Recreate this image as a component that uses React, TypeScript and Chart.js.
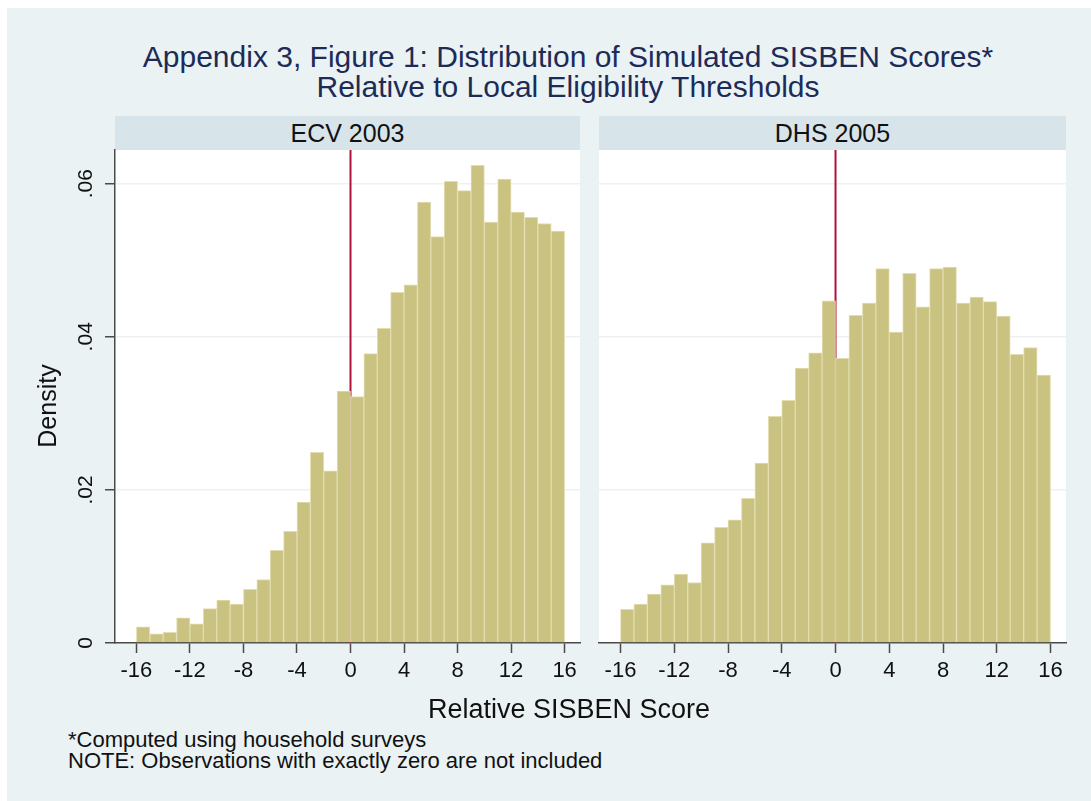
import React, { useEffect, useRef } from 'react';
import { Chart, registerables } from 'chart.js';

Chart.register(...registerables);

// ---- data ----
const panelTitles = ['ECV 2003', 'DHS 2005'];
const binStarts = [-16, -15, -14, -13, -12, -11, -10, -9, -8, -7, -6, -5, -4, -3, -2, -1, 0, 1, 2, 3, 4, 5, 6, 7, 8, 9, 10, 11, 12, 13, 14, 15];
const binWidth = 1;
const ecv2003 = [0.0021, 0.0012, 0.0014, 0.0033, 0.0025, 0.0045, 0.0056, 0.0051, 0.0070, 0.0083, 0.0121, 0.0146, 0.0184, 0.0249, 0.0225, 0.0329, 0.0322, 0.0378, 0.0411, 0.0458, 0.0468, 0.0576, 0.0531, 0.0603, 0.0591, 0.0624, 0.0550, 0.0606, 0.0563, 0.0556, 0.0548, 0.0538];
const dhs2005 = [0.0044, 0.0051, 0.0064, 0.0076, 0.0090, 0.0079, 0.0131, 0.0151, 0.0161, 0.0189, 0.0235, 0.0296, 0.0317, 0.0359, 0.0379, 0.0447, 0.0372, 0.0428, 0.0444, 0.0489, 0.0406, 0.0483, 0.0439, 0.0489, 0.0491, 0.0444, 0.0452, 0.0446, 0.0427, 0.0377, 0.0386, 0.0350];
const xTickValues = [-16, -12, -8, -4, 0, 4, 8, 12, 16];
const yTickValues = [0, 0.02, 0.04, 0.06];
const yTickLabels = ['0', '.02', '.04', '.06'];
const thresholds = [0];
const titleLines = ['Appendix 3, Figure 1: Distribution of Simulated SISBEN Scores*', 'Relative to Local Eligibility Thresholds'];
const yAxisTitle = 'Density';
const xAxisTitle = 'Relative SISBEN Score';
const notes = ['*Computed using household surveys', 'NOTE: Observations with exactly zero are not included'];

// ---- axis ranges ----
const X_MIN = -17.6;
const X_MAX = 17.15;
const Y_MIN = 0;
const Y_MAX = 0.0644;

// ---- styles ----
const FONT = '"Liberation Sans", Arial, Helvetica, sans-serif';
const BG = '#EAF2F4';
const STRIP = '#D7E4EA';
const BAR = '#C9C280';
const BAR_EDGE = '#E3DDB0';
const RED = '#B0123E';
const AXIS = '#4A4A4A';
const GRID = '#EDF1F3';
const TXT = '#111111';
const TITLE = '#1D2B57';

Chart.defaults.font.family = FONT;

const plotBgPlugin = {
  id: 'plotBg',
  beforeDraw(chart: any) {
    const { ctx, chartArea } = chart;
    ctx.save();
    ctx.fillStyle = '#ffffff';
    ctx.fillRect(chartArea.left, chartArea.top, chartArea.right - chartArea.left, chartArea.bottom - chartArea.top);
    ctx.restore();
  },
};

const thresholdPlugin = {
  id: 'threshold',
  beforeDatasetsDraw(chart: any) {
    const { ctx, chartArea, scales } = chart;
    ctx.save();
    ctx.strokeStyle = RED;
    ctx.lineWidth = 2;
    thresholds.forEach((t) => {
      const x = scales.x.getPixelForValue(t);
      ctx.beginPath();
      ctx.moveTo(x, chartArea.top);
      ctx.lineTo(x, chartArea.bottom);
      ctx.stroke();
    });
    ctx.restore();
  },
};

function makeConfig(values: number[], showY: boolean): any {
  return {
    type: 'bar',
    data: {
      datasets: [
        {
          data: binStarts.map((b, i) => ({ x: b + binWidth / 2, y: values[i] })),
          backgroundColor: BAR,
          borderColor: BAR_EDGE,
          borderWidth: 1,
          barPercentage: 1,
          categoryPercentage: 1,
        },
      ],
    },
    options: {
      animation: false,
      responsive: false,
      devicePixelRatio: 1,
      layout: { padding: { left: 0, top: 20, right: showY ? 17 : 25, bottom: 0 } },
      plugins: { legend: { display: false }, tooltip: { enabled: false }, title: { display: false } },
      scales: {
        x: {
          type: 'linear',
          min: X_MIN,
          max: X_MAX,
          offset: false,
          afterBuildTicks: (s: any) => {
            s.ticks = xTickValues.map((v) => ({ value: v }));
          },
          afterFit: (s: any) => {
            s.height = 57;
          },
          grid: {
            display: true,
            offset: false,
            drawOnChartArea: false,
            drawTicks: true,
            tickLength: 10,
            tickColor: AXIS,
            tickWidth: 1.5,
          },
          border: { display: true, color: AXIS, width: 1.5 },
          ticks: {
            font: { size: 22, family: FONT },
            color: TXT,
            padding: 5,
            minRotation: 0,
            maxRotation: 0,
            autoSkip: false,
            callback: (v: number) => String(v),
          },
        },
        y: {
          type: 'linear',
          min: Y_MIN,
          max: Y_MAX,
          afterBuildTicks: (s: any) => {
            s.ticks = yTickValues.map((v) => ({ value: v }));
          },
          afterFit: (s: any) => {
            s.width = showY ? 108 : 9;
          },
          grid: {
            display: true,
            offset: false,
            drawOnChartArea: true,
            drawTicks: showY,
            tickLength: 10,
            tickColor: AXIS,
            tickWidth: 1.5,
            lineWidth: 1.5,
            color: (ctx: any) => (ctx.tick && ctx.tick.value === 0 ? 'rgba(0,0,0,0)' : GRID),
          },
          border: { display: showY, color: AXIS, width: 1.5 },
          ticks: {
            display: showY,
            font: { size: 21, family: FONT },
            color: TXT,
            padding: 4,
            minRotation: 90,
            maxRotation: 90,
            crossAlign: 'center',
            autoSkip: false,
            callback: (v: number) => {
              const i = yTickValues.indexOf(v);
              return i >= 0 ? yTickLabels[i] : '';
            },
          },
        },
      },
    },
    plugins: [plotBgPlugin, thresholdPlugin],
  };
}

function Panel({ values, showY, left, top, width, height }: any) {
  const ref = useRef<HTMLCanvasElement | null>(null);
  useEffect(() => {
    if (!ref.current) return;
    const chart = new Chart(ref.current, makeConfig(values, showY));
    return () => chart.destroy();
  }, [values, showY]);
  return (
    <canvas
      ref={ref}
      width={width}
      height={height}
      style={{ position: 'absolute', left, top, width, height, display: 'block' }}
    />
  );
}

export default function App() {
  const stripStyle = (left: number, width: number): React.CSSProperties => ({
    position: 'absolute',
    left,
    top: 116,
    width,
    height: 34,
    background: STRIP,
    color: TXT,
    fontSize: 25,
    lineHeight: '34px',
    textAlign: 'center',
    whiteSpace: 'nowrap',
  });
  return (
    <div
      style={{
        position: 'absolute',
        left: 0,
        top: 0,
        width: 1091,
        height: 801,
        background: '#ffffff',
        overflow: 'hidden',
        fontFamily: FONT,
      }}
    >
      <div style={{ position: 'absolute', left: 7, top: 8, width: 1084, height: 793, background: BG }} />
      <div
        style={{
          position: 'absolute',
          left: 68,
          top: 42,
          width: 1000,
          textAlign: 'center',
          fontSize: 30,
          lineHeight: '30px',
          color: TITLE,
          whiteSpace: 'nowrap',
        }}
      >
        {titleLines.map((t) => (
          <div key={t}>{t}</div>
        ))}
      </div>
      <div style={stripStyle(115, 465)}>{panelTitles[0]}</div>
      <div style={stripStyle(599, 467)}>{panelTitles[1]}</div>
      <Panel values={ecv2003} showY={true} left={7} top={130} width={590} height={570} />
      <Panel values={dhs2005} showY={false} left={590} top={130} width={501} height={570} />
      <div
        style={{
          position: 'absolute',
          left: 47 - 100,
          top: 406 - 15,
          width: 200,
          height: 30,
          lineHeight: '30px',
          fontSize: 25,
          color: TXT,
          textAlign: 'center',
          transform: 'rotate(-90deg)',
          whiteSpace: 'nowrap',
        }}
      >
        {yAxisTitle}
      </div>
      <div
        style={{
          position: 'absolute',
          left: 569 - 250,
          top: 694,
          width: 500,
          lineHeight: '30px',
          fontSize: 27,
          color: TXT,
          textAlign: 'center',
          whiteSpace: 'nowrap',
        }}
      >
        {xAxisTitle}
      </div>
      <div
        style={{
          position: 'absolute',
          left: 68,
          top: 729,
          fontSize: 22,
          lineHeight: '21px',
          color: TXT,
          whiteSpace: 'nowrap',
        }}
      >
        {notes.map((n) => (
          <div key={n}>{n}</div>
        ))}
      </div>
    </div>
  );
}
